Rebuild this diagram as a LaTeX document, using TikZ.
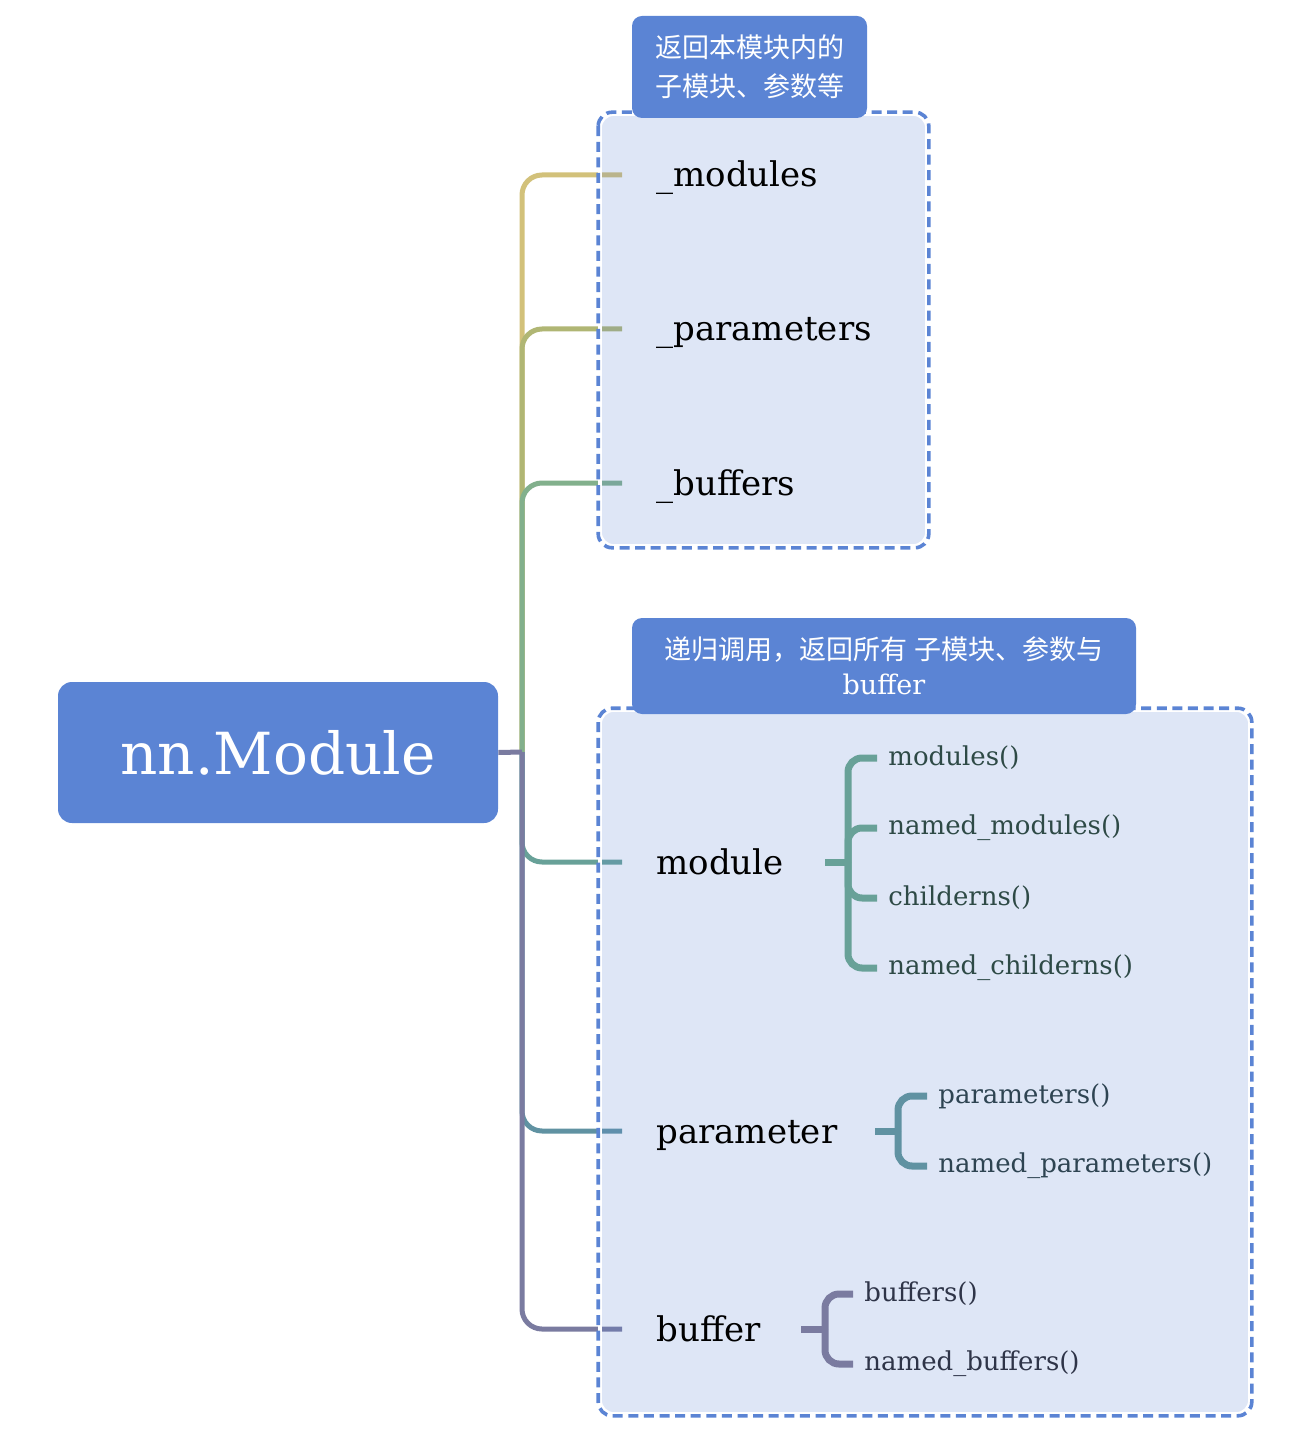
\documentclass[tikz,border=0pt]{standalone}
\usepackage{fontspec}
\setmainfont{DejaVu Serif}
\newfontfamily\cjk{Noto Sans CJK SC}
\usetikzlibrary{fit}

\definecolor{nodeblue}{RGB}{91,132,212}
\definecolor{modsline}{RGB}{210,193,122}
\definecolor{parsline}{RGB}{176,182,116}
\definecolor{bufsline}{RGB}{130,176,140}
\definecolor{modline}{RGB}{104,161,152}
\definecolor{parline}{RGB}{96,146,162}
\definecolor{bufline}{RGB}{122,123,160}
\definecolor{modtext}{RGB}{46,74,70}
\definecolor{partext}{RGB}{46,68,82}
\definecolor{buftext}{RGB}{46,52,72}

\pgfdeclarelayer{lines}
\pgfdeclarelayer{boxes}
\pgfsetlayers{lines,boxes,main}

\begin{document}
\begin{tikzpicture}[x=0.5pt, y=-0.5pt,
  rootbox/.style={fill=nodeblue, rounded corners=7pt, text=white, minimum width=220pt, minimum height=70.5pt, font=\fontsize{29}{34}\selectfont},
  tagbox/.style={fill=nodeblue, rounded corners=5pt, text=white, align=center, inner sep=0pt},
  groupbox/.style={fill=nodeblue, fill opacity=0.2, draw=white, line width=1.8pt, rounded corners=7pt, inner sep=0pt},
  groupline/.style={draw=nodeblue, line width=1.8pt, dash pattern=on 5pt off 2.8pt, rounded corners=7pt},
  item/.style={anchor=base west, inner sep=0pt, font=\fontsize{17}{20}\selectfont},
  leaf/.style={anchor=west, inner sep=0pt, font=\fontsize{13}{16}\selectfont},
  branch/.style={line width=2.5pt, rounded corners=10pt},
  fork/.style={line width=3.5pt, rounded corners=7pt},
]
\useasboundingbox (0,0) rectangle (1302,1438);

% Root and the two labels
\node (root) [rootbox] at (278,752.5) {nn.Module};
\node (toptag) [tagbox, minimum width=117.5pt, minimum height=51pt, font=\cjk\fontsize{13.5}{19.5}\selectfont] at (749.5,67) {返回本模块内的\\子模块、参数等};
\node (bottag) [tagbox, minimum width=252pt, minimum height=48pt, font=\cjk\fontsize{13.5}{17.5}\selectfont] at (884,666) {递归调用，返回所有 子模块、参数与\\{\rmfamily buffer}};

% Group boxes
\begin{pgfonlayer}{boxes}
\node (topgroup) [groupbox, fit={(600,114) (927,546)}] {};
\node (botgroup) [groupbox, fit={(600,710) (1250,1414)}] {};
\draw[groupline] (topgroup.north west) rectangle (topgroup.south east);
\draw[groupline] (botgroup.north west) rectangle (botgroup.south east);
\end{pgfonlayer}

% Members (placed on their baselines)
\node (mods) [item] at (656,187) {\_modules};
\node (pars) [item] at (656,341) {\_parameters};
\node (bufs) [item] at (656,495) {\_buffers};
\node (module) [item] at (656,874) {module};
\node (parameter) [item] at (656,1143) {parameter};
\node (buffer) [item] at (656,1341) {buffer};

% Methods
\node (m1) [leaf, text=modtext] at (888,758) {modules()};
\node (m2) [leaf, text=modtext] at (888,828) {named\_modules()};
\node (m3) [leaf, text=modtext] at (888,898) {childerns()};
\node (m4) [leaf, text=modtext] at (888,968) {named\_childerns()};
\node (p1) [leaf, text=partext] at (938,1096) {parameters()};
\node (p2) [leaf, text=partext] at (938,1166) {named\_parameters()};
\node (b1) [leaf, text=buftext] at (864,1294) {buffers()};
\node (b2) [leaf, text=buftext] at (864,1364) {named\_buffers()};

% Tree branches
\coordinate (trunk) at (522,752);
\begin{pgfonlayer}{lines}
\draw[branch, modsline] (trunk) |- ([shift={(-17pt,6pt)}]mods.base west);
\draw[branch, parsline] (trunk) |- ([shift={(-17pt,6pt)}]pars.base west);
\draw[branch, bufsline] (trunk) |- ([shift={(-17pt,6pt)}]bufs.base west);
\draw[branch, modline] (trunk) |- ([shift={(-17pt,6pt)}]module.base west);
\draw[branch, parline] (trunk) |- ([shift={(-17pt,6pt)}]parameter.base west);
\draw[branch, bufline] (trunk) |- ([shift={(-17pt,6pt)}]buffer.base west);
\draw[branch, bufline] (root.east) -- (trunk);
\end{pgfonlayer}

% Method brackets
\coordinate (modj) at (848,862);
\coordinate (parj) at (898,1131);
\coordinate (bufj) at (825,1329);
\draw[fork, modline] ([xshift=-11.5pt]modj) -- (modj);
\foreach \leafname in {m1,m2,m3,m4}
  \draw[fork, modline] (modj) |- ([xshift=-5.5pt]\leafname.west);
\draw[fork, parline] ([xshift=-11.5pt]parj) -- (parj);
\foreach \leafname in {p1,p2}
  \draw[fork, parline] (parj) |- ([xshift=-5.5pt]\leafname.west);
\draw[fork, bufline] ([xshift=-12pt]bufj) -- (bufj);
\foreach \leafname in {b1,b2}
  \draw[fork, bufline] (bufj) |- ([xshift=-5.5pt]\leafname.west);
\end{tikzpicture}
\end{document}
